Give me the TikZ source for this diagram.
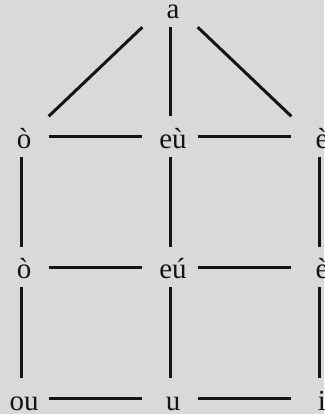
\documentclass[tikz,border=0pt]{standalone}
\usepackage{fontspec}
\setmainfont{Liberation Serif}
\definecolor{bg}{RGB}{217,217,217}
\definecolor{ink}{RGB}{20,20,20}
\begin{document}
\begin{tikzpicture}[x=1pt,y=-1pt,
  v/.style={rectangle,minimum width=55pt,minimum height=40pt,inner sep=0pt,
    text height=23pt,text depth=0pt,font=\fontsize{29}{29}\selectfont,text=ink},
  edge/.style={draw=ink,line width=3pt}]
\fill[bg] (0,0) rectangle (324,414);
\useasboundingbox (0,0) rectangle (324,414);
\clip (0,0) rectangle (324,414);
\node[v] (a)  at (170,7)     {\hspace*{6pt}a};
\node[v] (o1) at (21,136.5)  {\hspace*{6pt}ò};
\node[v] (e1) at (170,136.5) {\hspace*{6pt}eù};
\node[v] (r1) at (319,136.5) {\hspace*{6pt}è};
\node[v] (o2) at (21,267)    {\hspace*{6pt}ò};
\node[v] (e2) at (170,267)   {\hspace*{6pt}eú};
\node[v] (r2) at (319,267)   {\hspace*{6pt}è};
\node[v] (o3) at (21,398.5)  {\hspace*{6pt}ou};
\node[v] (e3) at (170,398.5) {\hspace*{6pt}u};
\node[v] (r3) at (319,398.5) {\hspace*{6pt}i};
\draw[edge] (a.south west) -- (o1.north east);
\draw[edge] (a) -- (e1);
\draw[edge] (a.south east) -- (r1.north west);
\draw[edge] (o1) -- (e1);
\draw[edge] (e1) -- (r1);
\draw[edge] (o2) -- (e2);
\draw[edge] (e2) -- (r2);
\draw[edge] (o3) -- (e3);
\draw[edge] (e3) -- (r3);
\draw[edge] (o1) -- (o2);
\draw[edge] (o2) -- (o3);
\draw[edge] (e1) -- (e2);
\draw[edge] (e2) -- (e3);
\draw[edge] (r1) -- (r2);
\draw[edge] (r2) -- (r3);
\end{tikzpicture}
\end{document}
